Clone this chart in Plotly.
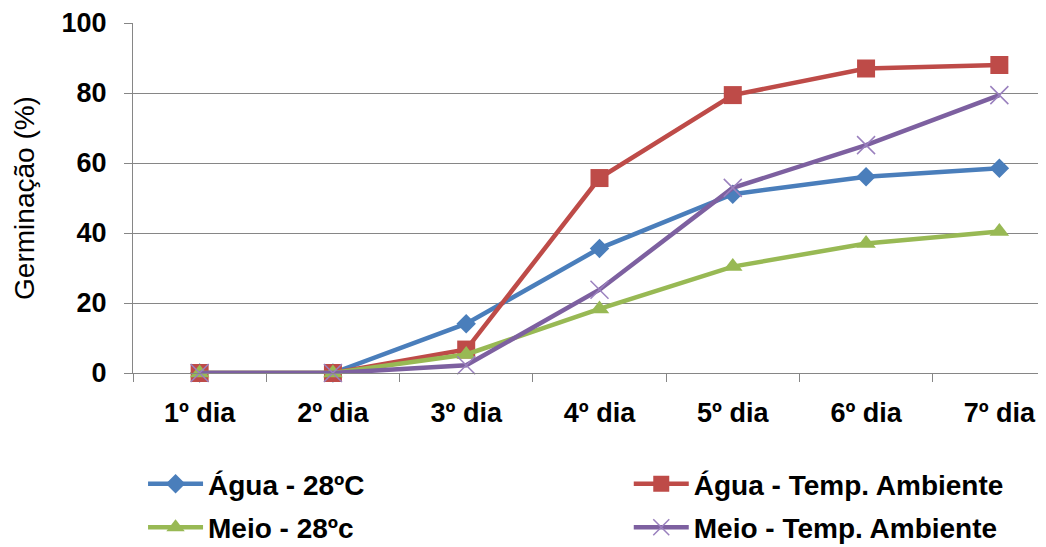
import plotly.graph_objects as go

dias = ["1º dia", "2º dia", "3º dia", "4º dia", "5º dia", "6º dia", "7º dia"]
agua_28 = [0, 0, 14.1, 35.6, 51.1, 56.1, 58.5]
agua_amb = [0, 0, 6.7, 55.7, 79.4, 87.0, 88.0]
meio_28 = [0, 0, 5.3, 18.3, 30.4, 37.0, 40.4]
meio_amb = [0, 0, 2.2, 23.8, 52.9, 65.1, 79.4]
y_ticks = [0, 20, 40, 60, 80, 100]

FONT = "Liberation Sans, Arial, sans-serif"

fig = go.Figure()
fig.add_trace(go.Scatter(x=dias, y=agua_28, name="Água - 28ºC", mode="lines+markers",
                         line=dict(color="#4A7EBB", width=4.5),
                         marker=dict(symbol="diamond", size=15, color="#4A7EBB"),
                         legend="legend", legendgroup="a", cliponaxis=False))
fig.add_trace(go.Scatter(x=dias, y=agua_amb, name="Água - Temp. Ambiente", mode="lines+markers",
                         line=dict(color="#BE4B48", width=4.5),
                         marker=dict(symbol="square", size=18, color="#BE4B48"),
                         legend="legend2", legendgroup="b", cliponaxis=False))
fig.add_trace(go.Scatter(x=dias, y=meio_28, name="Meio - 28ºc", mode="lines+markers",
                         line=dict(color="#98B954", width=4.5),
                         marker=dict(symbol="triangle-up", size=17, color="#98B954"),
                         legend="legend", legendgroup="c", cliponaxis=False))
fig.add_trace(go.Scatter(x=dias, y=meio_amb, name="Meio - Temp. Ambiente", mode="lines+markers",
                         line=dict(color="#7D60A0", width=4.5),
                         marker=dict(symbol="x-thin-open", size=18, color="#9A80BE",
                                     line=dict(width=1.5, color="#9A80BE")),
                         legend="legend2", legendgroup="d", cliponaxis=False))

fig.update_layout(
    width=1046, height=547,
    margin=dict(l=125, r=8, t=15, b=182, autoexpand=False),
    paper_bgcolor="white", plot_bgcolor="white",
    font=dict(family=FONT, color="black"),
    xaxis=dict(type="category", range=[-0.5, 6.35], showgrid=False, automargin=False,
               showline=True, linecolor="#868686", linewidth=1,
               ticks="outside", tickson="boundaries", ticklen=8, tickcolor="#868686",
               tickfont=dict(size=27, family=FONT, weight="bold"),
               ticklabelstandoff=16),
    yaxis=dict(range=[0, 100], tickvals=y_ticks, showgrid=True, gridcolor="#868686", gridwidth=1,
               showline=True, linecolor="#868686", linewidth=1, zeroline=False,
               ticks="outside", ticklen=8, tickcolor="#868686",
               tickfont=dict(size=27, family=FONT, weight="bold"),
               ticklabelstandoff=12, automargin=False,
               title=dict(text="Germinação (%)", font=dict(size=28, family=FONT), standoff=18)),
    legend=dict(x=0.011, xanchor="left", y=-0.246, yanchor="top", orientation="v",
                font=dict(size=28, family=FONT, weight="bold"), itemwidth=55,
                tracegroupgap=4, bgcolor="rgba(0,0,0,0)"),
    legend2=dict(x=0.543, xanchor="left", y=-0.246, yanchor="top", orientation="v",
                 font=dict(size=28, family=FONT, weight="bold"), itemwidth=55,
                 tracegroupgap=4, bgcolor="rgba(0,0,0,0)"),
)

fig.write_html("out.html")
